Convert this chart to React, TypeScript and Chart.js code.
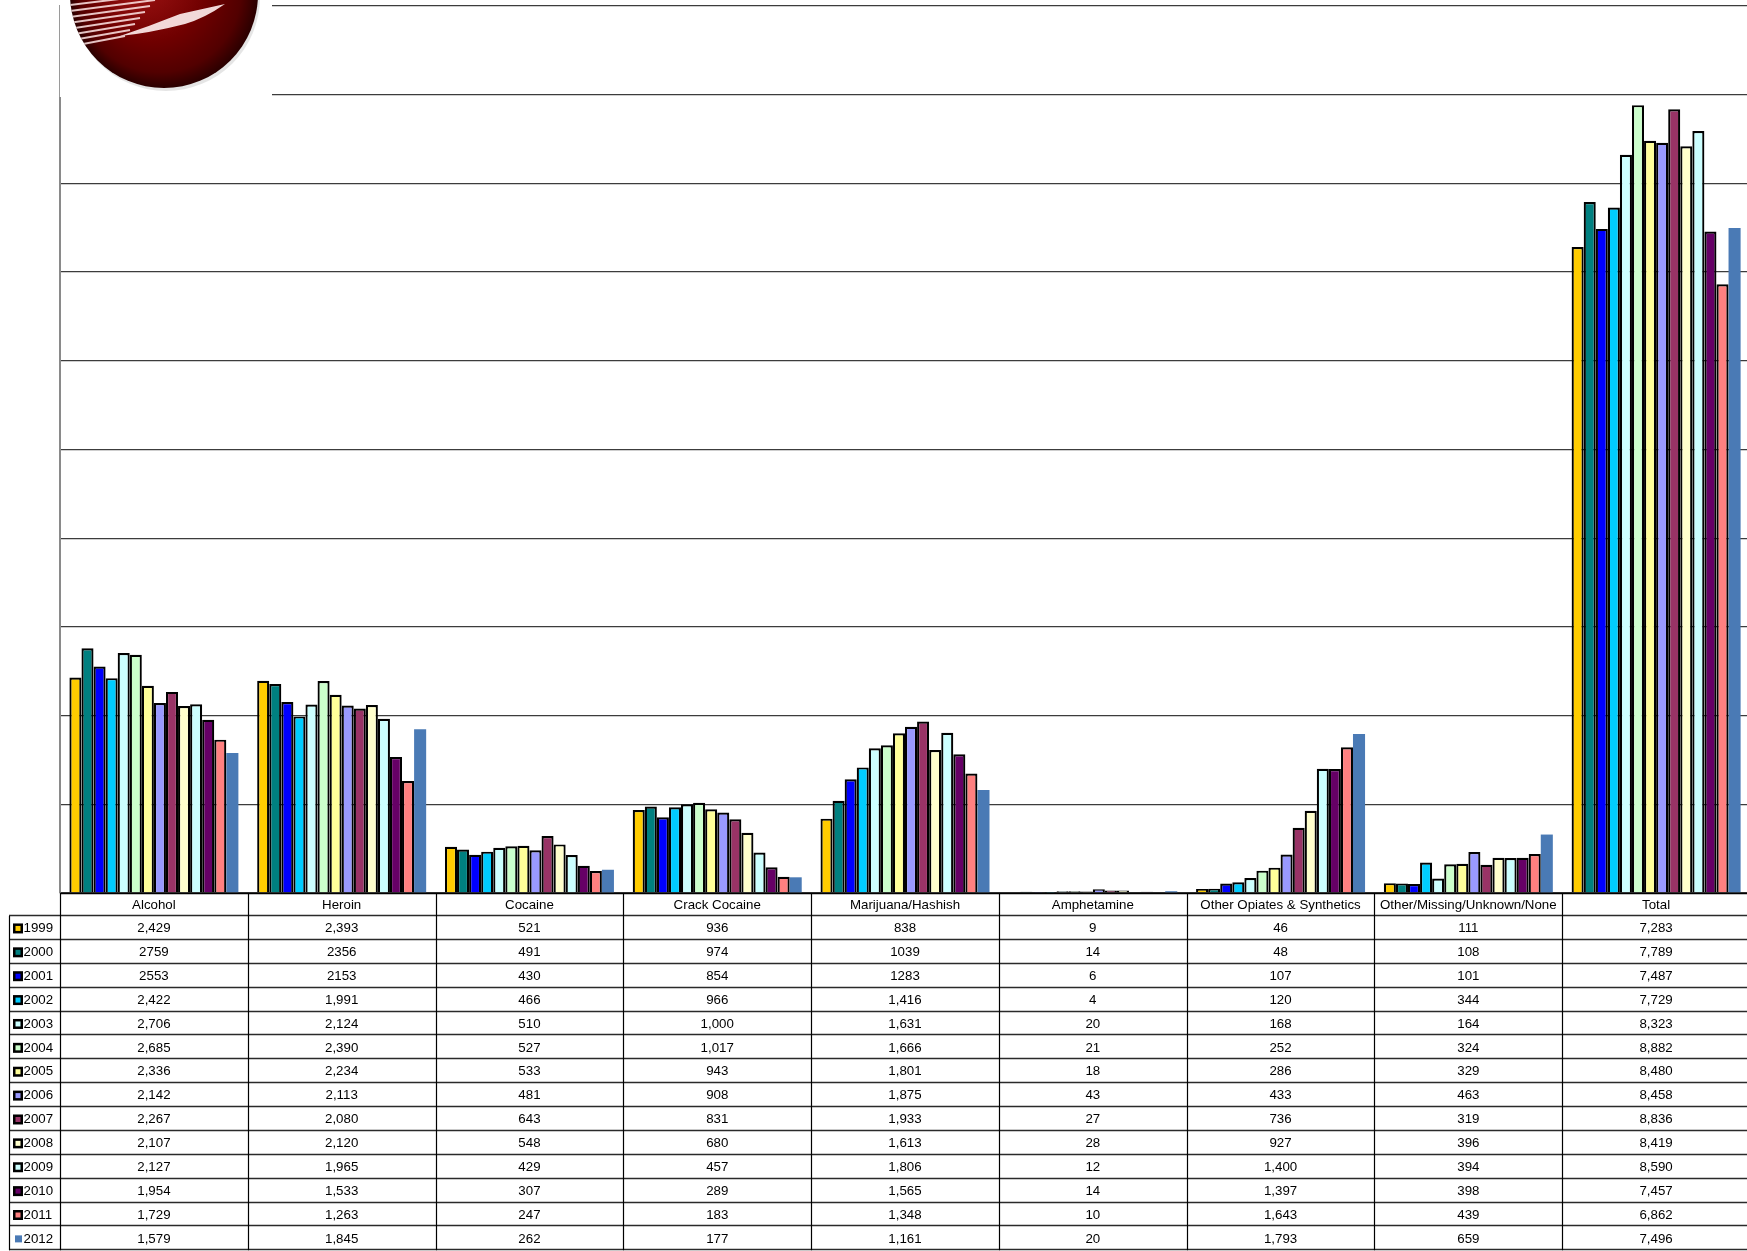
import React, { useEffect, useRef } from 'react';
import { Chart, registerables } from 'chart.js';

Chart.register(...registerables);

// ---------- data ----------
const categories = [
  'Alcohol',
  'Heroin',
  'Cocaine',
  'Crack Cocaine',
  'Marijuana/Hashish',
  'Amphetamine',
  'Other Opiates & Synthetics',
  'Other/Missing/Unknown/None',
  'Total',
];

const years = ['1999', '2000', '2001', '2002', '2003', '2004', '2005', '2006', '2007', '2008', '2009', '2010', '2011', '2012'];

const v1999 = [2429, 2393, 521, 936, 838, 9, 46, 111, 7283];
const v2000 = [2759, 2356, 491, 974, 1039, 14, 48, 108, 7789];
const v2001 = [2553, 2153, 430, 854, 1283, 6, 107, 101, 7487];
const v2002 = [2422, 1991, 466, 966, 1416, 4, 120, 344, 7729];
const v2003 = [2706, 2124, 510, 1000, 1631, 20, 168, 164, 8323];
const v2004 = [2685, 2390, 527, 1017, 1666, 21, 252, 324, 8882];
const v2005 = [2336, 2234, 533, 943, 1801, 18, 286, 329, 8480];
const v2006 = [2142, 2113, 481, 908, 1875, 43, 433, 463, 8458];
const v2007 = [2267, 2080, 643, 831, 1933, 27, 736, 319, 8836];
const v2008 = [2107, 2120, 548, 680, 1613, 28, 927, 396, 8419];
const v2009 = [2127, 1965, 429, 457, 1806, 12, 1400, 394, 8590];
const v2010 = [1954, 1533, 307, 289, 1565, 14, 1397, 398, 7457];
const v2011 = [1729, 1263, 247, 183, 1348, 10, 1643, 439, 6862];
const v2012 = [1579, 1845, 262, 177, 1161, 20, 1793, 659, 7496];

const seriesValues = [v1999, v2000, v2001, v2002, v2003, v2004, v2005, v2006, v2007, v2008, v2009, v2010, v2011, v2012];

// rows whose table cells (except Total) are shown without thousands separators
const rawFormatYears = ['2000', '2001'];

const yearColors = [
  '#FFCC00', '#008080', '#0000FF', '#00CCFF', '#CCFFFF', '#CCFFCC', '#FFFF99',
  '#9999FF', '#993366', '#FFFFCC', '#CCFFFF', '#660066', '#FF8080', '#4A7AB5',
];
const borderedYears = [true, true, true, true, true, true, true, true, true, true, true, true, true, false];

const yMax = 10000;
const yStep = 1000;

const FONT = '"Liberation Sans", Arial, Helvetica, sans-serif';

function fmt(v: number, year: string, col: number): string {
  if (rawFormatYears.includes(year) && categories[col] !== 'Total') return String(v);
  return v.toLocaleString('en-US');
}

// ---------- plugins ----------
const logoPlugin = {
  id: 'logo',
  afterDraw(chart: any) {
    const ctx = chart.ctx as CanvasRenderingContext2D;
    ctx.save();
    ctx.fillStyle = '#ffffff';
    ctx.fillRect(58, 0, 214, 97);
    // thin frame line of the logo image
    ctx.strokeStyle = '#9a9a9a';
    ctx.lineWidth = 1;
    ctx.beginPath();
    ctx.moveTo(59.5, 5);
    ctx.lineTo(59.5, 97);
    ctx.stroke();
    // sphere
    const cx = 164, cy = -6, r = 94;
    ctx.fillStyle = 'rgba(0,0,0,0.10)';
    ctx.beginPath();
    ctx.arc(cx + 2, cy + 3, r, 0, Math.PI * 2);
    ctx.fill();
    ctx.beginPath();
    ctx.arc(cx, cy, r, 0, Math.PI * 2);
    ctx.clip();
    const g = ctx.createRadialGradient(cx - 30, cy - 20, 10, cx, cy, r);
    g.addColorStop(0, '#a01414');
    g.addColorStop(0.55, '#700000');
    g.addColorStop(0.85, '#520000');
    g.addColorStop(1, '#2a0000');
    ctx.fillStyle = g;
    ctx.fillRect(cx - r, cy - r, 2 * r, 2 * r);
    // white stripes
    ctx.strokeStyle = 'rgba(255,230,230,0.85)';
    ctx.lineWidth = 2;
    for (let i = 0; i < 8; i++) {
      ctx.beginPath();
      ctx.moveTo(62, 6 + i * 6);
      ctx.lineTo(160 - i * 5, -6 + i * 6);
      ctx.stroke();
    }
    // swoosh
    ctx.fillStyle = 'rgba(255,240,240,0.9)';
    ctx.beginPath();
    ctx.moveTo(120, 36);
    ctx.quadraticCurveTo(150, 26, 180, 14);
    ctx.lineTo(225, 4);
    ctx.quadraticCurveTo(205, 18, 185, 24);
    ctx.quadraticCurveTo(150, 33, 120, 36);
    ctx.closePath();
    ctx.fill();
    ctx.restore();
  },
};

const tablePlugin = {
  id: 'dataTable',
  afterDraw(chart: any) {
    const ctx = chart.ctx as CanvasRenderingContext2D;
    const xs = chart.scales.x;
    const area = chart.chartArea;
    const n = categories.length;
    const colW = (area.right - area.left) / n;
    const top = area.bottom;
    const headerBottom = top + 23;
    const rowH = 23.88;
    const tableBottom = headerBottom + rowH * years.length;
    const legendLeft = 9;
    const right = area.right + 4;

    ctx.save();
    ctx.strokeStyle = '#000';
    ctx.lineWidth = 1.5;
    ctx.beginPath();
    ctx.moveTo(area.left, top + 0.5);
    ctx.lineTo(right, top + 0.5);
    ctx.stroke();

    ctx.strokeStyle = '#2a2a2a';
    ctx.lineWidth = 1.3;
    for (let k = 0; k <= years.length; k++) {
      const y = Math.round(headerBottom + rowH * k) - 0.5;
      ctx.beginPath();
      ctx.moveTo(legendLeft, y);
      ctx.lineTo(right, y);
      ctx.stroke();
    }
    ctx.strokeStyle = '#000';
    ctx.lineWidth = 1.2;
    for (let i = 0; i <= n; i++) {
      const x = Math.round(area.left + colW * i) + 0.5;
      ctx.beginPath();
      ctx.moveTo(x, top);
      ctx.lineTo(x, tableBottom);
      ctx.stroke();
    }
    ctx.beginPath();
    ctx.moveTo(legendLeft + 0.5, headerBottom);
    ctx.lineTo(legendLeft + 0.5, tableBottom);
    ctx.stroke();

    ctx.font = `13.3px ${FONT}`;
    ctx.fillStyle = '#000';
    ctx.textBaseline = 'middle';
    ctx.textAlign = 'center';
    categories.forEach((c, i) => {
      ctx.fillText(c, xs.getPixelForValue(i), (top + headerBottom) / 2 + 1);
    });
    years.forEach((yr, r) => {
      const cy = headerBottom + rowH * (r + 0.5) + 0.5;
      ctx.textAlign = 'center';
      seriesValues[r].forEach((v, i) => {
        ctx.fillText(fmt(v, yr, i), xs.getPixelForValue(i), cy);
      });
      if (borderedYears[r]) {
        ctx.fillStyle = '#000';
        ctx.fillRect(13, cy - 5, 10, 10);
        ctx.fillStyle = yearColors[r];
        ctx.fillRect(15.5, cy - 2.5, 5, 5);
      } else {
        ctx.fillStyle = yearColors[r];
        ctx.fillRect(15, cy - 3.5, 7, 7);
      }
      ctx.fillStyle = '#000';
      ctx.textAlign = 'left';
      ctx.fillText(yr, 23.5, cy);
    });
    ctx.restore();
  },
};

export default function App() {
  const canvasRef = useRef<HTMLCanvasElement | null>(null);

  useEffect(() => {
    const canvas = canvasRef.current;
    if (!canvas) return;
    const chart = new Chart(canvas, {
      type: 'bar',
      data: {
        labels: categories,
        datasets: years.map((yr, r) => ({
          label: yr,
          data: seriesValues[r],
          backgroundColor: yearColors[r],
          borderColor: '#000000',
          borderWidth: borderedYears[r] ? 2.2 : 0,
          borderSkipped: 'bottom' as const,
          categoryPercentage: 0.9,
          barPercentage: 1.0,
        })),
      },
      options: {
        responsive: false,
        animation: false,
        devicePixelRatio: 1,
        layout: { padding: { left: 60, right: 2, top: 6, bottom: 358 } },
        plugins: {
          legend: { display: false },
          tooltip: { enabled: false },
          title: { display: false },
        },
        scales: {
          x: {
            display: false,
            offset: true,
            grid: { display: false },
          },
          y: {
            display: true,
            min: 0,
            max: yMax,
            ticks: { display: false, stepSize: yStep },
            grid: { color: '#3c3c3c', lineWidth: 1.3, drawTicks: false },
            border: { display: true, color: '#8a8a8a', width: 2 },
          },
        },
      },
      plugins: [tablePlugin, logoPlugin],
    });
    return () => chart.destroy();
  }, []);

  return (
    <div
      style={{
        position: 'fixed',
        left: 0,
        top: 0,
        width: 1747,
        height: 1251,
        overflow: 'hidden',
        background: '#ffffff',
      }}
    >
      <canvas ref={canvasRef} width={1752} height={1251} style={{ width: 1752, height: 1251, display: 'block' }} />
    </div>
  );
}
